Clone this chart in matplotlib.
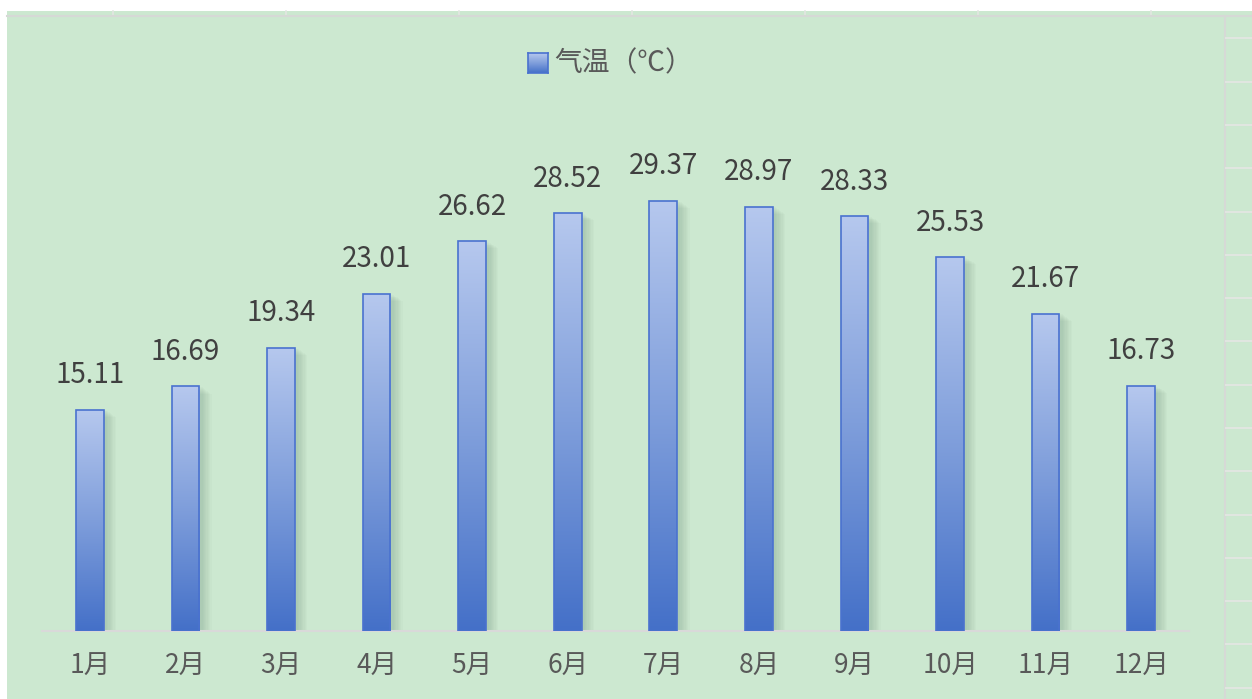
import numpy as np
import matplotlib
matplotlib.use('Agg')
import matplotlib.pyplot as plt
from matplotlib.patches import Rectangle
from matplotlib.lines import Line2D
from matplotlib.colors import LinearSegmentedColormap

plt.rcParams['font.family'] = ['Noto Sans CJK SC', 'DejaVu Sans']

months = ['1月', '2月', '3月', '4月', '5月', '6月',
          '7月', '8月', '9月', '10月', '11月', '12月']
temps = [15.11, 16.69, 19.34, 23.01, 26.62, 28.52,
         29.37, 28.97, 28.33, 25.53, 21.67, 16.73]
series_name = '气温（℃）'

W, H = 1252, 699
fig = plt.figure(figsize=(W / 100, H / 100), dpi=100, facecolor='white')


def fx(px):
    return px / W


def fy(py):
    return 1 - py / H


green = '#cce8d0'
grid_col = '#d6d9d6'

# sheet background behind the chart
fig.add_artist(Rectangle((fx(7), 0), 1 - fx(7), fy(11), transform=fig.transFigure,
                         facecolor=green, edgecolor='none', zorder=0))
# cell separators in the top strip
for x in range(113, 1252, 173):
    fig.add_artist(Line2D([fx(x), fx(x)], [fy(11), fy(15)], transform=fig.transFigure,
                          color='#e2e6e2', lw=1.2, zorder=1))
# chart frame (top and right)
fig.add_artist(Line2D([fx(7), fx(1252)], [fy(16), fy(16)], transform=fig.transFigure,
                      color=grid_col, lw=1.5, zorder=1))
fig.add_artist(Line2D([fx(1225), fx(1225)], [fy(16), 0], transform=fig.transFigure,
                      color=grid_col, lw=1.5, zorder=1))
# sheet rows to the right of the chart
for y in np.arange(38.3, 699, 43.3):
    fig.add_artist(Line2D([fx(1226), fx(1252)], [fy(y), fy(y)], transform=fig.transFigure,
                          color='#e0e6e0', lw=1.5, zorder=1))

ax = fig.add_axes([fx(42), fy(631), (1189 - 42) / W, 14.65 * 35 / H])
ax.set_facecolor('none')

x = np.arange(len(months))
bw = 0.29
bars = ax.bar(x, temps, width=bw, facecolor='none', edgecolor='#4a72cf',
              linewidth=1.2, zorder=4)

cmap = LinearSegmentedColormap.from_list('g', ['#4470c8', '#7f9edb', '#b6c8ee'])
grad = np.linspace(0, 1, 256).reshape(-1, 1)
px = 1 / 95.6
for b, v in zip(bars, temps):
    x0 = b.get_x()
    # soft shadow on the right
    for k in range(1, 9):
        ax.add_patch(Rectangle((x0 + 2 * px, 0), bw + k * 1.3 * px, v - 3 * k * 0.02,
                               facecolor='#3d6a55', edgecolor='none', alpha=0.028, zorder=2))
    im = ax.imshow(grad, extent=[x0, x0 + bw, 0, v], origin='lower', cmap=cmap,
                   aspect='auto', zorder=3)
    im.set_clip_path(b)
    ax.annotate(f'{v:.2f}', (b.get_x() + bw / 2, v), xytext=(0, 14),
                textcoords='offset points', ha='center', va='bottom',
                fontsize=20, color='#404040')

ax.set_xlim(-0.5, len(months) - 0.5)
ax.set_ylim(0, 35)
ax.set_xticks(x)
ax.set_xticklabels(months, fontsize=19, color='#595959')
ax.tick_params(axis='x', length=0, pad=16)
ax.set_yticks([])
for s in ['top', 'right', 'left']:
    ax.spines[s].set_visible(False)
ax.spines['bottom'].set_color('#d9d9d9')
ax.spines['bottom'].set_linewidth(1.5)

# legend
lax = fig.add_axes([fx(528), fy(73), 20 / W, 20 / H])
lax.imshow(grad, extent=[0, 1, 0, 1], origin='lower', cmap=cmap, aspect='auto')
lax.set_xticks([])
lax.set_yticks([])
for s in lax.spines.values():
    s.set_color('#4a72cf')
    s.set_linewidth(1.2)
fig.text(fx(554), fy(63), series_name, fontsize=20, color='#595959',
         ha='left', va='center')

fig.savefig('out.png', dpi=100, facecolor='white')
